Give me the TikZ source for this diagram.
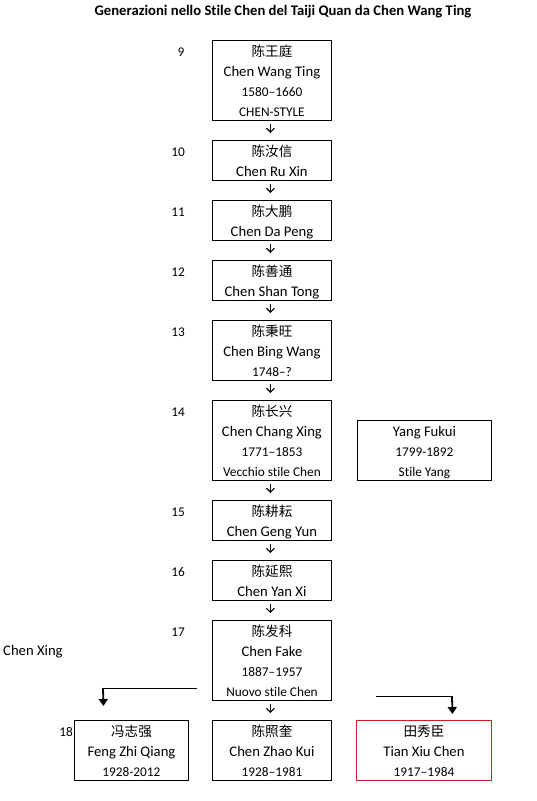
\documentclass[tikz,border=0pt]{standalone}
\usepackage{fontspec}
\setmainfont{Carlito}[Ligatures=NoCommon]
\newfontfamily\cjk{Noto Sans CJK SC}
\usetikzlibrary{arrows.meta}
\definecolor{boxred}{RGB}{204,30,36}
\newcommand\rowstrut{\rule[-4pt]{0pt}{20pt}}
\newcommand\zh[1]{\rowstrut{\cjk\fontsize{13.6}{20}\selectfont #1}}
\newcommand\nm[1]{\rowstrut{\fontsize{14.67}{20}\selectfont #1}}
\newcommand\yr[1]{\rowstrut{\fontsize{13.3}{20}\selectfont #1}}
\tikzset{
  gbox/.style={draw=black, line width=0.9pt, anchor=north west, inner sep=0pt,
    align=center, font=\fontsize{13.3}{20}\selectfont},
  mainbox/.style={gbox, minimum width=119pt},
  redbox/.style={gbox, draw=boxred},
  genlabel/.style={font=\fontsize{13.3}{16}\selectfont, inner sep=0pt},
  smallarrow/.style={line width=1.1pt, -{Straight Barb[length=4pt,width=8pt]},
    shorten <=3pt, shorten >=7pt},
  hline/.style={line width=1pt},
  vline/.style={line width=1.8pt, -{Triangle[length=7pt,width=9pt]}}
}
\begin{document}
\begin{tikzpicture}[x=1pt,y=-1pt]
\useasboundingbox (0,0) rectangle (536,801);

\node[font=\bfseries\fontsize{14.67}{18}\selectfont, inner sep=0pt] (title) at (283,12)
  {Generazioni nello Stile Chen del Taiji Quan da Chen Wang Ting};

% main column
\node[mainbox, minimum height=80pt] (g9) at (212,40)
  {\zh{陈王庭}\\\nm{Chen Wang Ting}\\\yr{1580–1660}\\\yr{CHEN-STYLE}};
\node[mainbox, minimum height=40pt] (g10) at (212,140) {\zh{陈汝信}\\\nm{Chen Ru Xin}};
\node[mainbox, minimum height=40pt] (g11) at (212,200) {\zh{陈大鹏}\\\nm{Chen Da Peng}};
\node[mainbox, minimum height=40pt] (g12) at (212,260) {\zh{陈善通}\\\nm{Chen Shan Tong}};
\node[mainbox, minimum height=60pt] (g13) at (212,320) {\zh{陈秉旺}\\\nm{Chen Bing Wang}\\\yr{1748–?}};
\node[mainbox, minimum height=80pt] (g14) at (212,400)
  {\zh{陈长兴}\\\nm{Chen Chang Xing}\\\yr{1771–1853}\\\yr{Vecchio stile Chen}};
\node[gbox, minimum width=134pt, minimum height=60pt] (yang) at (357,420)
  {\nm{Yang Fukui}\\\yr{1799-1892}\\\yr{Stile Yang}};
\node[mainbox, minimum height=40pt] (g15) at (212,500) {\zh{陈耕耘}\\\nm{Chen Geng Yun}};
\node[mainbox, minimum height=40pt] (g16) at (212,560) {\zh{陈延熙}\\\nm{Chen Yan Xi}};
\node[mainbox, minimum height=80pt] (g17) at (212,620)
  {\zh{陈发科}\\\nm{Chen Fake}\\\yr{1887–1957}\\\yr{Nuovo stile Chen}};
\node[gbox, minimum width=114pt, minimum height=60pt] (feng) at (74,720)
  {\zh{冯志强}\\\nm{Feng Zhi Qiang}\\\yr{1928-2012}};
\node[mainbox, minimum height=60pt] (zhao) at (212,720)
  {\zh{陈照奎}\\\nm{Chen Zhao Kui}\\\yr{1928–1981}};
\node[redbox, minimum width=135pt, minimum height=60pt] (tian) at (356,720)
  {\zh{田秀臣}\\\nm{Tian Xiu Chen}\\\yr{1917–1984}};

% generation labels
\node[genlabel] (l9)  at (181,52) {9};
\node[genlabel] (l10) at (178,152) {10};
\node[genlabel] (l11) at (178,212) {11};
\node[genlabel] (l12) at (178,272) {12};
\node[genlabel] (l13) at (178,332) {13};
\node[genlabel] (l14) at (178,412) {14};
\node[genlabel] (l15) at (178,512) {15};
\node[genlabel] (l16) at (178,572) {16};
\node[genlabel] (l17) at (178,632) {17};
\node[genlabel, anchor=east] (l18) at (73,732) {18};
\node[font=\fontsize{14.67}{18}\selectfont, inner sep=0pt, anchor=west] (cx) at (3,652) {Chen Xing};

% small arrows
\foreach \a/\b in {g9/g10,g10/g11,g11/g12,g12/g13,g13/g14,g14/g15,g15/g16,g16/g17,g17/zhao}
  \draw[smallarrow] ([xshift=-1.5pt]\a.south) -- ([xshift=-1.5pt]\b.north);

% elbow arrows
\coordinate (la) at (197,688);
\coordinate (lc) at (103,688);
\draw[hline] (la) -- (lc);
\draw[vline] (lc) -- ([xshift=-28pt,yshift=14pt]feng.north);
\coordinate (ra) at (376,696);
\coordinate (rc) at (452,696);
\draw[hline] (ra) -- (rc);
\draw[vline] (rc) -- ([xshift=28.5pt,yshift=6pt]tian.north);
\end{tikzpicture}
\end{document}
